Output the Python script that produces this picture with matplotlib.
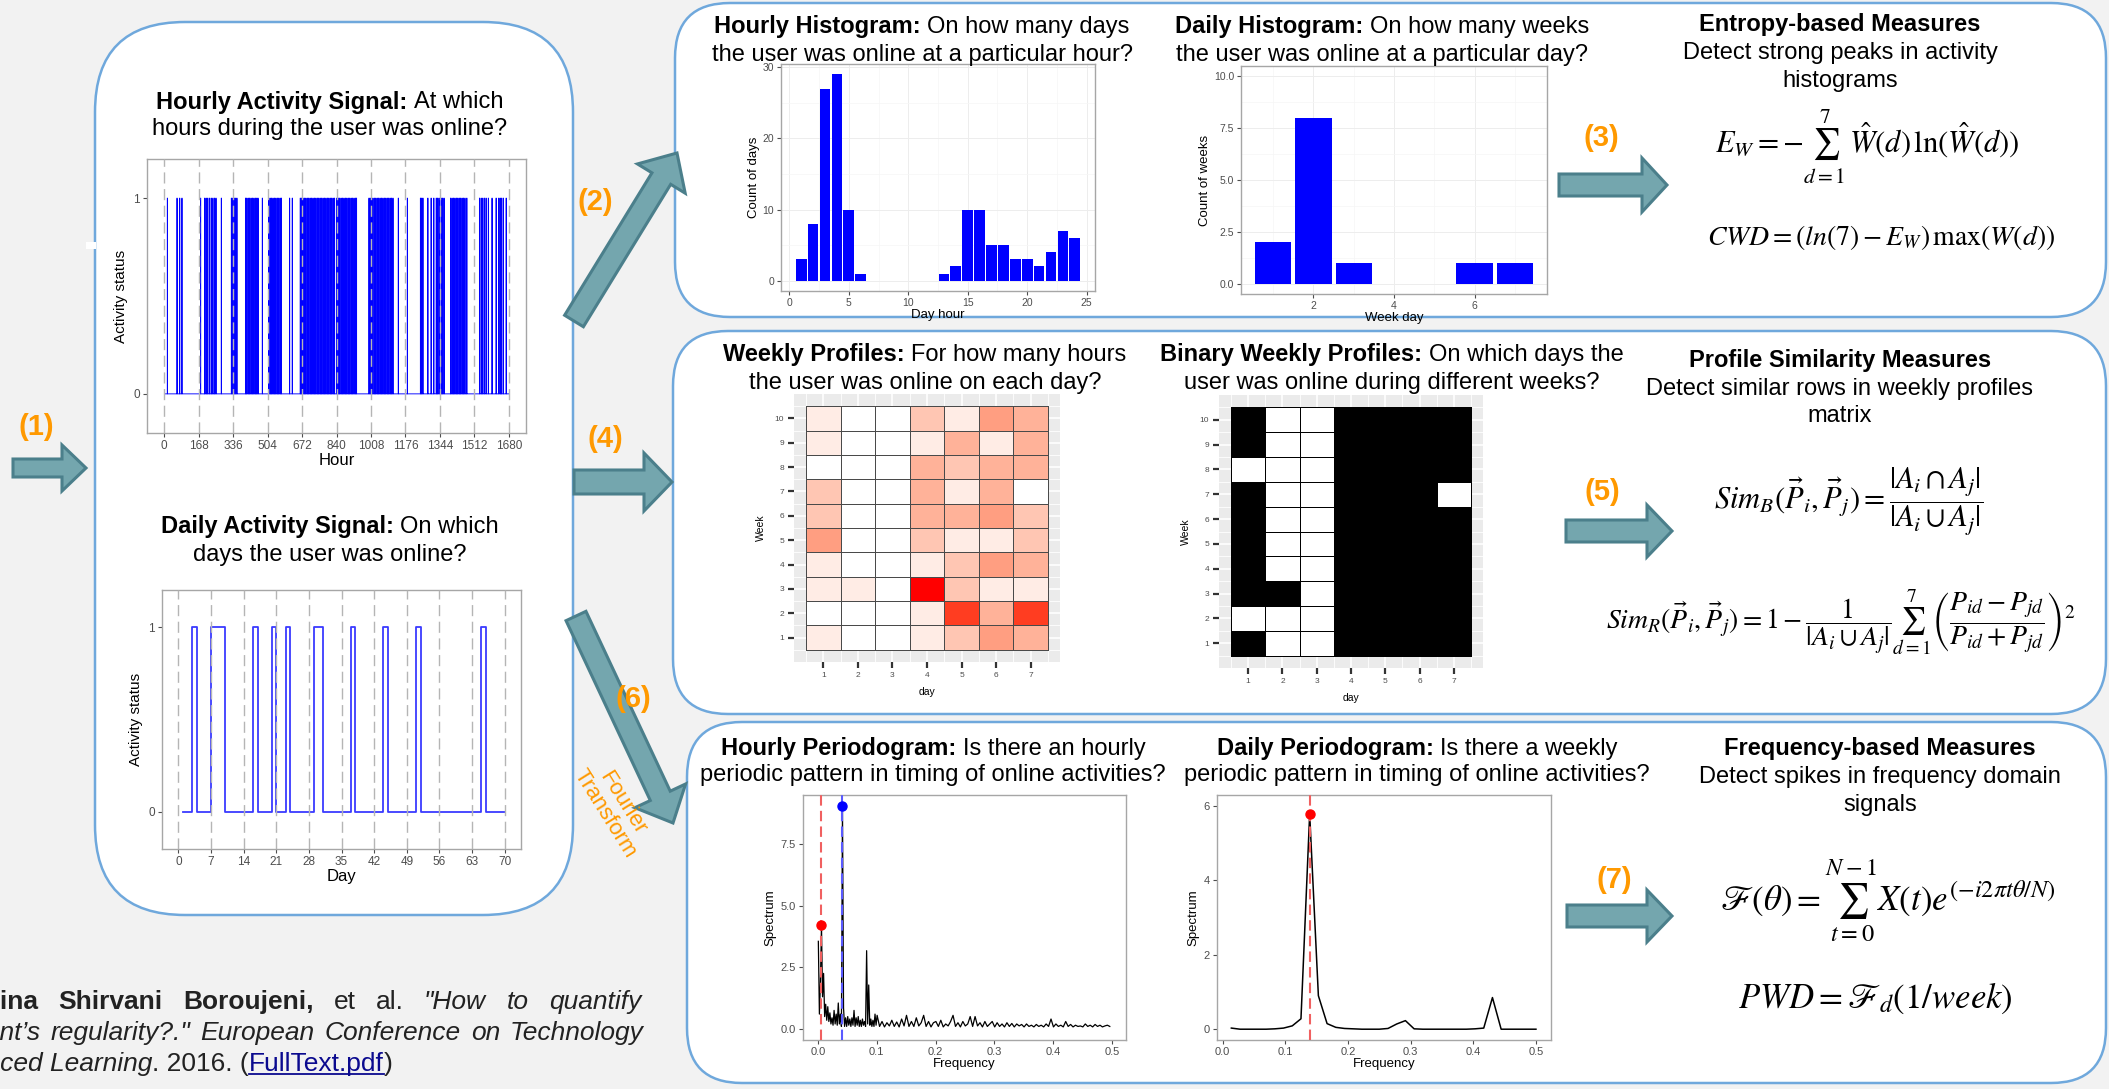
import numpy as np
import matplotlib
matplotlib.use('Agg')
import matplotlib.pyplot as plt
from matplotlib.patches import FancyBboxPatch, Polygon, Rectangle
from matplotlib.colors import ListedColormap
from matplotlib.lines import Line2D

# ---------------- DATA ----------------
# hours (1..1680) at which the user was online (read from the hourly signal)
hourly_active = [
    15, 62, 75, 86,
    177, 197, 204, 212, 221, 229, 237, 245, 252, 278,
    327, 334, 341, 348, 354,
    396, 402, 409, 416, 423, 430, 437, 444, 451, 457, 478,
    509, 516, 523, 530, 537, 544, 551, 558, 565, 571,
    611, 624,
    663, 669, 676, 683, 690, 697, 704, 711, 718, 725, 732, 739, 746,
    753, 760, 767, 774, 781, 788, 795, 802, 809, 816, 823, 830,
    841, 848, 855, 862, 869, 876, 883, 890, 897, 904, 911, 918, 925, 932, 937,
    998, 1004, 1010, 1017, 1024, 1031, 1038, 1045, 1052, 1059,
    1066, 1073, 1080, 1087, 1094, 1101, 1108, 1115,
    1141, 1185, 1249, 1255, 1261,
    1285, 1301, 1314, 1326, 1333, 1340, 1350, 1357, 1364,
    1396, 1403, 1410, 1417, 1424, 1431, 1438, 1445, 1452, 1459, 1466, 1475,
    1537, 1545, 1553, 1561, 1569, 1580, 1598, 1618, 1631, 1638, 1645, 1653, 1667,
]
n_hours = 1680
hour_ticks = [0, 168, 336, 504, 672, 840, 1008, 1176, 1344, 1512, 1680]

# days (1..70) on which the user was online
daily_active = [3, 7, 8, 9, 16, 20, 23, 29, 30, 37, 44, 51, 65]
n_days = 70
day_ticks = [0, 7, 14, 21, 28, 35, 42, 49, 56, 63, 70]

# hourly histogram
hist_hours = list(range(1, 25))
hist_hour_counts = [3, 8, 27, 29, 10, 1, 0, 0, 0, 0, 0, 0, 1, 2, 10, 10, 5, 5, 3, 3, 2, 4, 7, 6]

# daily histogram
hist_days = [1, 2, 3, 4, 5, 6, 7]
hist_day_counts = [2, 8, 1, 0, 0, 1, 1]

# weekly profiles (hours online), rows = week 1..10, cols = day 1..7
weekly_profile = [
    [1, 0, 0, 1, 3, 5, 4],
    [0, 0, 0, 1, 9, 4, 9],
    [1, 1, 0, 10, 3, 1, 1],
    [1, 0, 0, 1, 3, 5, 4],
    [5, 0, 0, 3, 1, 1, 3],
    [3, 0, 0, 4, 4, 5, 3],
    [3, 0, 0, 4, 1, 4, 0],
    [0, 0, 0, 4, 3, 4, 4],
    [1, 0, 0, 1, 4, 1, 4],
    [1, 0, 0, 3, 1, 5, 4],
]
# binary weekly profiles
binary_profile = [
    [1, 0, 0, 1, 1, 1, 1],
    [0, 0, 0, 1, 1, 1, 1],
    [1, 1, 0, 1, 1, 1, 1],
    [1, 0, 0, 1, 1, 1, 1],
    [1, 0, 0, 1, 1, 1, 1],
    [1, 0, 0, 1, 1, 1, 1],
    [1, 0, 0, 1, 1, 1, 0],
    [0, 0, 0, 1, 1, 1, 1],
    [1, 0, 0, 1, 1, 1, 1],
    [1, 0, 0, 1, 1, 1, 1],
]

# hourly periodogram: frequency bins (k / 1680) and spectrum values
hourly_bins = list(range(1, 167, 3)) + list(range(169, 835, 7))
hourly_spec = [
    3.55, 0.6, 1.9, 4.2, 1.3, 2.25, 0.5, 1.0, 0.35, 0.9,
    0.3, 0.65, 0.2, 0.45, 0.15, 0.75, 0.2, 0.6, 0.15, 1.05,
    0.2, 0.6, 0.1, 9.04, 0.85, 0.1, 0.45, 0.1, 0.5, 0.15,
    0.4, 0.1, 0.45, 0.15, 0.75, 0.1, 0.45, 0.15, 0.5, 0.1,
    0.35, 0.1, 0.4, 0.15, 0.3, 0.1, 3.17, 0.2, 1.78, 0.15,
    0.4, 0.1, 0.35, 0.1, 0.6, 0.15,
    0.55, 0.1, 0.3, 0.08, 0.25, 0.12, 0.35, 0.1, 0.28, 0.08,
    0.4, 0.12, 0.55, 0.1, 0.3, 0.1, 0.45, 0.12, 0.25, 0.55,
    0.1, 0.3, 0.08, 0.25, 0.3, 0.1, 0.35, 0.08, 0.2, 0.12,
    0.3, 0.55, 0.1, 0.25, 0.08, 0.3, 0.12, 0.2, 0.5, 0.1,
    0.5, 0.12, 0.25, 0.08, 0.3, 0.1, 0.2, 0.3, 0.08, 0.25,
    0.1, 0.2, 0.08, 0.25, 0.1, 0.22, 0.08, 0.2, 0.12, 0.18,
    0.08, 0.2, 0.1, 0.15, 0.08, 0.18, 0.1, 0.15, 0.08, 0.2,
    0.1, 0.4, 0.08, 0.2, 0.1, 0.15, 0.08, 0.3, 0.1, 0.18,
    0.08, 0.15, 0.1, 0.12, 0.08, 0.2, 0.1, 0.15, 0.08, 0.18,
    0.1, 0.15, 0.08, 0.12, 0.15, 0.1,
]
hourly_marks = [(1 / 168, 'red'), (1 / 24, 'blue')]

# daily periodogram: frequency bins (k / 72) and spectrum values
daily_bins = list(range(1, 37))
daily_spec = [
    0.03, 0.0, 0.0, 0.0, 0.0, 0.01, 0.03, 0.09, 0.28, 5.78,
    0.90, 0.15, 0.05, 0.02, 0.01, 0.0, 0.0, 0.0, 0.02, 0.14,
    0.23, 0.01, 0.0, 0.0, 0.0, 0.0, 0.0, 0.0, 0.01, 0.03,
    0.85, 0.0, 0.0, 0.0, 0.0, 0.0,
]
daily_marks = [(1 / 7, 'red')]

# ---------------- FIGURE ----------------
W, H = 2109, 1089
plt.rcParams['font.family'] = ['Liberation Sans', 'DejaVu Sans']
plt.rcParams['mathtext.fontset'] = 'stix'

fig = plt.figure(figsize=(W / 100, H / 100), dpi=100, facecolor='#f2f2f2')
R = fig.canvas.get_renderer()

bg = fig.add_axes([0, 0, 1, 1], zorder=-5)
bg.set_xlim(0, W)
bg.set_ylim(H, 0)
bg.axis('off')

ORANGE = '#ff9900'
BOXC = '#6fa8dc'


def pax(x0, y0, x1, y1, **kw):
    return fig.add_axes([x0 / W, 1 - y1 / H, (x1 - x0) / W, (y1 - y0) / H], **kw)


def rbox(x0, y0, x1, y1, r):
    bg.add_patch(FancyBboxPatch((x0, y0), x1 - x0, y1 - y0,
                                boxstyle=f'round,pad=0,rounding_size={r}',
                                fc='white', ec=BOXC, lw=1.8, zorder=1))


def block_arrow(x0, y0, x1, y1, bw=22, hw=54, hl=26):
    p0 = np.array([x0, y0], float)
    p1 = np.array([x1, y1], float)
    d = p1 - p0
    L = np.hypot(*d)
    u = d / L
    n = np.array([-u[1], u[0]])
    ph = p0 + u * (L - hl)
    pts = [p0 + n * bw / 2, ph + n * bw / 2, ph + n * hw / 2, p1,
           ph - n * hw / 2, ph - n * bw / 2, p0 - n * bw / 2]
    bg.add_patch(Polygon(pts, closed=True, fc='#74a6ae', ec='#4b7f8b',
                         lw=2.2, joinstyle='miter', zorder=3))


def ftext(x, y, s, size, **kw):
    return fig.text(x / W, 1 - y / H, s, fontsize=size, **kw)


def tw(t):
    return t.get_window_extent(renderer=R).width


def cline(cx, cy, s, size=17, **kw):
    fpx = size * 100 / 72
    return ftext(cx, cy + 0.36 * fpx, s, size, ha='center', va='baseline', **kw)


def title2(cx, cy1, cy2, bold, rest, line2, size=17):
    fpx = size * 100 / 72
    b1 = cy1 + 0.36 * fpx
    t1 = ftext(0, b1, bold, size, fontweight='bold', ha='left', va='baseline')
    t2 = ftext(0, b1, rest, size, ha='left', va='baseline')
    w1, w2 = tw(t1), tw(t2)
    gap = 0.278 * fpx
    left = cx - (w1 + gap + w2) / 2
    t1.set_x(left / W)
    t2.set_x((left + w1 + gap) / W)
    cline(cx, cy2, line2, size)


# ---- boxes ----
rbox(95, 22, 573, 915, 90)
rbox(675, 3, 2106, 317, 55)
rbox(673, 331, 2106, 714, 55)
rbox(687, 722, 2106, 1083, 55)
bg.add_patch(Rectangle((86, 242), 10, 7, fc='white', ec='none', zorder=2))

# ---- arrows ----
block_arrow(13, 468, 86, 468, bw=18, hw=46, hl=24)
block_arrow(574, 321, 677, 153, bw=22, hw=56, hl=30)
block_arrow(1559, 185, 1667, 185, bw=22, hw=54, hl=25)
block_arrow(574, 482, 672, 482, bw=24, hw=58, hl=28)
block_arrow(1566, 531, 1672, 531, bw=22, hw=52, hl=25)
block_arrow(576, 616, 673, 823, bw=22, hw=56, hl=30)
block_arrow(1567, 916, 1672, 916, bw=22, hw=52, hl=25)

for lbl, (x, y) in {'(1)': (36, 427), '(2)': (595, 202), '(3)': (1601, 138),
                    '(4)': (605, 439), '(5)': (1602, 492), '(6)': (633, 699),
                    '(7)': (1614, 880)}.items():
    ftext(x, y, lbl, 21, color=ORANGE, fontweight='bold', ha='center', va='center')

ftext(614, 808, 'Fourier\nTransform', 16, color=ORANGE, rotation=-58,
      rotation_mode='anchor', ha='center', va='center', multialignment='center',
      linespacing=1.0)


# ---------------- styling helpers ----------------
def theme_bw(ax, tsize=8, grid=False):
    for sp in ax.spines.values():
        sp.set_color('#a6a6a6')
        sp.set_linewidth(1.0)
    ax.tick_params(colors='#4d4d4d', labelcolor='#4d4d4d', length=3, width=0.8,
                   labelsize=tsize, pad=2)
    if grid:
        ax.grid(True, which='major', color='#ededed', lw=0.7)
        ax.grid(True, which='minor', color='#f6f6f6', lw=0.5)
        ax.tick_params(which='minor', length=0)
        ax.set_axisbelow(True)


# ---- hourly activity signal ----
title2(330, 100, 127, 'Hourly Activity Signal:', 'At which', 'hours during the user was online?')
ax = pax(147, 159, 526, 433)
hours = np.arange(1, n_hours + 1)
hstat = np.zeros(n_hours)
hstat[np.array(hourly_active) - 1] = 1
ax.step(hours, hstat, where='post', color='#0000ff', lw=0.65)
for t in hour_ticks:
    ax.axvline(t, color='#b5b5b5', lw=1.0, ls=(0, (8, 4)), zorder=3)
ax.set_xlim(-84, 1764)
ax.set_ylim(-0.2, 1.2)
ax.set_xticks(hour_ticks)
ax.set_yticks([0, 1])
theme_bw(ax, 8.5)
ax.set_xlabel('Hour', fontsize=12, labelpad=1)
ax.set_ylabel('Activity status', fontsize=11, labelpad=4)

# ---- daily activity signal ----
title2(330, 525, 552, 'Daily Activity Signal:', 'On which', 'days the user was online?')
ax = pax(162, 590, 521, 849)
days = np.arange(1, n_days + 1)
dstat = np.zeros(n_days)
dstat[np.array(daily_active) - 1] = 1
ax.step(days, dstat, where='post', color='#3a3aff', lw=1.3)
for t in day_ticks:
    ax.axvline(t, color='#b5b5b5', lw=1.0, ls=(0, (8, 4)), zorder=3)
ax.set_xlim(-3.5, 73.5)
ax.set_ylim(-0.2, 1.2)
ax.set_xticks(day_ticks)
ax.set_yticks([0, 1])
theme_bw(ax, 8.5)
ax.set_xlabel('Day', fontsize=12, labelpad=1)
ax.set_ylabel('Activity status', fontsize=11, labelpad=4)

# ---- hourly histogram ----
title2(922, 25, 53, 'Hourly Histogram:', 'On how many days', 'the user was online at a particular hour?')
ax = pax(781, 64, 1095, 291)
ax.bar(hist_hours, hist_hour_counts, width=0.9, color='#0000ff', zorder=2)
ax.set_xlim(-0.7, 25.7)
ax.set_ylim(-1.45, 30.45)
ax.set_xticks([0, 5, 10, 15, 20, 25])
ax.set_yticks([0, 10, 20, 30])
ax.set_xticks(np.arange(2.5, 25, 5), minor=True)
ax.set_yticks([5, 15, 25], minor=True)
theme_bw(ax, 7.5, grid=True)
ax.set_xlabel('Day hour', fontsize=9.5, labelpad=1)
ax.set_ylabel('Count of days', fontsize=9.5, labelpad=2)

# ---- daily histogram ----
title2(1382, 25, 53, 'Daily Histogram:', 'On how many weeks', 'the user was online at a particular day?')
ax = pax(1241, 66, 1547, 294)
ax.bar(hist_days, hist_day_counts, width=0.9, color='#0000ff', zorder=2)
ax.set_xlim(0.205, 7.795)
ax.set_ylim(-0.5, 10.5)
ax.set_xticks([2, 4, 6])
ax.set_yticks([0, 2.5, 5, 7.5, 10])
ax.set_yticklabels(['0.0', '2.5', '5.0', '7.5', '10.0'])
ax.set_xticks([1, 3, 5, 7], minor=True)
ax.set_yticks([1.25, 3.75, 6.25, 8.75], minor=True)
theme_bw(ax, 7.5, grid=True)
ax.set_xlabel('Week day', fontsize=9.5, labelpad=1)
ax.set_ylabel('Count of weeks', fontsize=9.5, labelpad=2)


# ---- Lab gradient white -> red (like ggplot scale_fill_gradient) ----
def lab_to_rgb(L, a, b):
    fy = (L + 16) / 116
    fx = fy + a / 500
    fz = fy - b / 200

    def finv(t):
        return np.where(t ** 3 > 0.008856, t ** 3, (t - 16 / 116) / 7.787)
    X = 0.95047 * finv(fx)
    Y = 1.0 * finv(fy)
    Z = 1.08883 * finv(fz)
    r = 3.2406 * X - 1.5372 * Y - 0.4986 * Z
    g = -0.9689 * X + 1.8758 * Y + 0.0415 * Z
    bb = 0.0557 * X - 0.2040 * Y + 1.0570 * Z
    out = []
    for c in (r, g, bb):
        c = np.where(c <= 0.0031308, 12.92 * c, 1.055 * np.abs(c) ** (1 / 2.4) - 0.055)
        out.append(np.clip(c, 0, 1))
    return np.stack(out, axis=-1)


tt = np.linspace(0, 1, 256)
lab_cols = lab_to_rgb(100 - 46.77 * tt, 80.11 * tt, 67.22 * tt)
red_cmap = ListedColormap(lab_cols)


def heat_axes(ax, data, cmap, vmax, ec):
    ax.set_facecolor('#ebebeb')
    xe = np.arange(0.5, 8.0, 1.0)
    ye = np.arange(0.5, 11.0, 1.0)
    ax.pcolormesh(xe, ye, np.array(data), cmap=cmap, vmin=0, vmax=vmax,
                  edgecolors=ec, linewidth=0.7, zorder=2)
    ax.set_xlim(0.15, 7.85)
    ax.set_ylim(0.0, 11.0)
    ax.set_xticks(range(1, 8))
    ax.set_yticks(range(1, 11))
    ax.set_xticks(np.arange(0.5, 8, 1.0), minor=True)
    ax.set_yticks(np.arange(0.5, 11, 1.0), minor=True)
    ax.grid(True, which='major', color='white', lw=1.2)
    ax.grid(True, which='minor', color='white', lw=0.6)
    ax.set_axisbelow(True)
    for sp in ax.spines.values():
        sp.set_visible(False)
    ax.tick_params(which='major', length=4, width=1.6, color='#333333',
                   labelsize=6, labelcolor='#4d4d4d', pad=3)
    ax.tick_params(which='minor', length=0)
    ax.set_xlabel('day', fontsize=7.5, labelpad=6)
    ax.set_ylabel('Week', fontsize=7.5, labelpad=6)


# ---- weekly profiles ----
title2(925, 353, 380, 'Weekly Profiles:', 'For how many hours', 'the user was online on each day?')
ax = pax(794, 394, 1060, 662)
heat_axes(ax, weekly_profile, red_cmap, 10, '#4a4a4a')

# ---- binary weekly profiles ----
title2(1392, 353, 380, 'Binary Weekly Profiles:', 'On which days the', 'user was online during different weeks?')
ax = pax(1219, 395, 1483, 668)
heat_axes(ax, binary_profile, ListedColormap(['white', 'black']), 1, 'black')

# ---- hourly periodogram ----
title2(933, 746, 773, 'Hourly Periodogram:', 'Is there an hourly', 'periodic pattern in timing of online activities?')
ax = pax(803, 795, 1126, 1040)
hf = np.array(hourly_bins) / n_hours
hs = np.array(hourly_spec)
ax.plot(hf, hs, color='black', lw=0.9, zorder=2)
for f, c in hourly_marks:
    i = int(np.argmin(np.abs(hf - f)))
    lc = '#f06060' if c == 'red' else '#5a5aff'
    ax.axvline(hf[i], color=lc, lw=1.5, ls=(0, (5, 2.5)), zorder=3)
    ax.plot(hf[i], hs[i], 'o', color=c, ms=6.5, zorder=4)
ax.set_xlim(-0.0255, 0.524)
ax.set_ylim(-0.45, 9.48)
ax.set_xticks([0, 0.1, 0.2, 0.3, 0.4, 0.5])
ax.set_xticklabels(['0.0', '0.1', '0.2', '0.3', '0.4', '0.5'])
ax.set_yticks([0, 2.5, 5, 7.5])
ax.set_yticklabels(['0.0', '2.5', '5.0', '7.5'])
theme_bw(ax, 8)
ax.set_xlabel('Frequency', fontsize=9.5, labelpad=1)
ax.set_ylabel('Spectrum', fontsize=9.5, labelpad=3)

# ---- daily periodogram ----
title2(1417, 746, 773, 'Daily Periodogram:', 'Is there a weekly', 'periodic pattern in timing of online activities?')
ax = pax(1217, 795, 1551, 1040)
df = np.array(daily_bins) / 72
ds = np.array(daily_spec)
ax.plot(df, ds, color='black', lw=1.1, zorder=2)
for f, c in daily_marks:
    i = int(np.argmin(np.abs(df - f)))
    ax.axvline(df[i], color='#f06060', lw=1.5, ls=(0, (5, 2.5)), zorder=3)
    ax.plot(df[i], ds[i], 'o', color=c, ms=6.5, zorder=4)
ax.set_xlim(-0.009, 0.524)
ax.set_ylim(-0.29, 6.29)
ax.set_xticks([0, 0.1, 0.2, 0.3, 0.4, 0.5])
ax.set_xticklabels(['0.0', '0.1', '0.2', '0.3', '0.4', '0.5'])
ax.set_yticks([0, 2, 4, 6])
theme_bw(ax, 8)
ax.set_xlabel('Frequency', fontsize=9.5, labelpad=1)
ax.set_ylabel('Spectrum', fontsize=9.5, labelpad=3)

# ---------------- right-hand measures ----------------
cline(1840, 22, 'Entropy-based Measures', 17, fontweight='bold')
cline(1840, 50, 'Detect strong peaks in activity', 17)
cline(1840, 78, 'histograms', 17)
ftext(1867, 147, r'$E_W = -\sum_{d=1}^{7}\,\hat{W}(d)\,\ln(\hat{W}(d))$', 22, ha='center', va='center')
ftext(1881, 238, r'$CWD = (ln(7) - E_W)\,\mathrm{max}(W(d))$', 20, ha='center', va='center')

cline(1840, 358, 'Profile Similarity Measures', 17, fontweight='bold')
cline(1840, 387, 'Detect similar rows in weekly profiles', 17)
cline(1840, 414, 'matrix', 17)
ftext(1849, 501, r'$Sim_B(\vec{P}_i,\vec{P}_j) = \dfrac{|A_i \cap A_j|}{|A_i \cup A_j|}$', 22, ha='center', va='center')
ftext(1841, 622, r'$Sim_R(\vec{P}_i,\vec{P}_j) = 1 - \dfrac{1}{|A_i \cup A_j|}\sum_{d=1}^{7}\left(\dfrac{P_{id}-P_{jd}}{P_{id}+P_{jd}}\right)^2$',
      20, ha='center', va='center')

cline(1880, 747, 'Frequency-based Measures', 17, fontweight='bold')
cline(1880, 774, 'Detect spikes in frequency domain', 17)
cline(1880, 802, 'signals', 17)
ftext(1888, 901, r'$\mathscr{F}(\theta) = \sum_{t=0}^{N-1} X(t)e^{(-i2\pi t\theta/N)}$', 25, ha='center', va='center')
ftext(1875, 998, r'$PWD = \mathscr{F}_d(1/week)$', 25, ha='center', va='center')

# ---------------- citation (justified, cut by the left edge) ----------------
CIT = '#222222'
cs = 19


def justified_line(words, cut_prefix, cut_kw, x_end, yb):
    pre = ftext(0, yb, cut_prefix, cs, **cut_kw)
    x_start = -tw(pre)
    pre.remove()
    ts = [ftext(0, yb, s, cs, color=CIT, ha='left', va='baseline', **kw) for s, kw in words]
    ws = [tw(t) for t in ts]
    gap = (x_end - x_start - sum(ws)) / (len(ts) - 1)
    x = x_start
    for t, w in zip(ts, ws):
        t.set_x(x / W)
        x += w + gap


B = {'fontweight': 'bold'}
I = {'fontstyle': 'italic'}
N = {}
justified_line([('Mina', B), ('Shirvani', B), ('Boroujeni,', B), ('et', N), ('al.', N),
                ('"How', I), ('to', I), ('quantify', I)],
               'M', B, 641, 1009)
justified_line([('student\u2019s', I), ('regularity?."', I), ('European', I),
                ('Conference', I), ('on', I), ('Technology', I)],
               'stude', I, 644, 1040)

pre = ftext(0, 1071, 'Enhan', cs, fontstyle='italic')
xcur = -tw(pre)
pre.remove()
for s, sty, col, under in [('Enhanced Learning', 'italic', CIT, False),
                           ('. 2016. (', 'normal', CIT, False),
                           ('FullText.pdf', 'normal', '#0b0a8f', True),
                           (')', 'normal', CIT, False)]:
    t = ftext(xcur, 1071, s, cs, color=col, fontstyle=sty, ha='left', va='baseline')
    w = tw(t)
    if under:
        yb = 1 - 1074 / H
        fig.add_artist(Line2D([xcur / W, (xcur + w) / W], [yb, yb], color=col, lw=1.3))
    xcur += w

fig.savefig('out.png', dpi=100, facecolor=fig.get_facecolor())
